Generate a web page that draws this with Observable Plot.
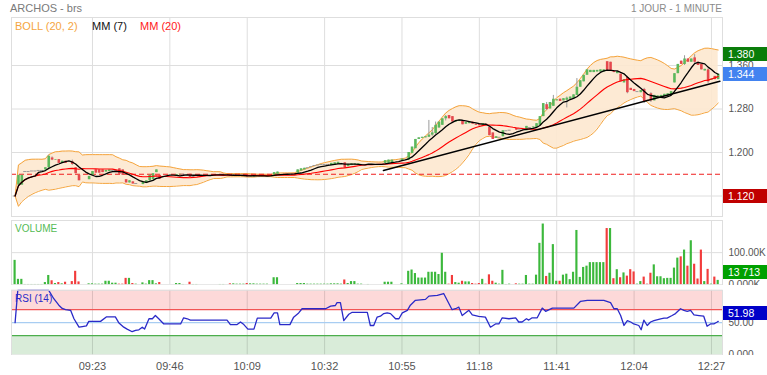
<!DOCTYPE html>
<html>
<head>
<meta charset="utf-8">
<script src="https://cdn.jsdelivr.net/npm/d3@7"></script>
<script src="https://cdn.jsdelivr.net/npm/@observablehq/plot@0.6"></script>
<style>
  html,body{margin:0;padding:0;background:#fff;}
  #chart{position:relative;width:767px;height:375px;overflow:hidden;font-family:"Liberation Sans",Arial,sans-serif;}
  #chart svg{position:absolute;left:0;overflow:hidden;}
  .t{position:absolute;white-space:nowrap;line-height:12px;}
  .badge{position:absolute;left:723px;width:44px;color:#fff;font-size:10.5px;padding-left:5px;box-sizing:border-box;height:14px;line-height:14px;}
</style>
</head>
<body>
<div id="chart"></div>
<script>
// ---------- data ----------
const title = "ARCHOS - brs";
const periodLabel = "1 JOUR - 1 MINUTE";
const sessionOpen = "09:00";

// one entry per minute from 09:00
const opens = [
1.120,1.140,1.140,1.165,1.165,1.166,1.166,1.167,1.167,1.168,
1.172,1.190,1.186,1.187,1.180,1.184,1.182,1.183,1.172,1.158,
1.149,1.150,1.150,1.158,1.168,1.168,1.168,1.164,1.165,1.167,
1.167,1.170,1.168,1.150,1.144,1.146,1.143,1.143,1.141,1.143,
1.148,1.150,1.163,1.158,1.156,1.157,1.157,1.158,1.157,1.159,
1.160,1.160,1.160,1.156,1.158,1.159,1.159,1.159,1.159,1.159,
1.159,1.159,1.158,1.158,1.159,1.156,1.157,1.157,1.158,1.158,
1.155,1.155,1.156,1.157,1.157,1.157,1.157,1.158,1.160,1.160,
1.160,1.159,1.159,1.160,1.162,1.166,1.168,1.172,1.174,1.176,
1.177,1.178,1.178,1.178,1.176,1.177,1.178,1.180,1.181,1.174,
1.176,1.177,1.178,1.178,1.178,1.178,1.178,1.178,1.178,1.178,
1.180,1.180,1.181,1.185,1.186,1.185,1.188,1.186,1.198,1.207,
1.224,1.226,1.227,1.228,1.232,1.235,1.245,1.250,1.262,1.268,
1.266,1.256,1.257,1.258,1.252,1.253,1.256,1.252,1.252,1.248,
1.252,1.246,1.236,1.226,1.228,1.229,1.240,1.241,1.242,1.244,
1.243,1.244,1.240,1.246,1.245,1.246,1.250,1.266,1.288,1.280,
1.285,1.295,1.298,1.295,1.296,1.298,1.299,1.305,1.320,1.330,
1.342,1.347,1.347,1.348,1.348,1.348,1.367,1.366,1.350,1.345,
1.344,1.328,1.338,1.318,1.316,1.312,1.310,1.316,1.296,1.308,
1.295,1.300,1.302,1.303,1.304,1.306,1.328,1.345,1.368,1.362,
1.372,1.366,1.374,1.366,1.362,1.350,1.352,1.333,1.340,1.334];

const closes = [
1.120,1.158,1.158,1.165,1.165,1.166,1.166,1.167,1.167,1.172,
1.193,1.186,1.187,1.180,1.184,1.180,1.182,1.178,1.161,1.148,
1.149,1.150,1.156,1.165,1.162,1.162,1.163,1.167,1.168,1.167,
1.167,1.160,1.158,1.144,1.148,1.142,1.143,1.143,1.146,1.148,
1.158,1.161,1.168,1.151,1.156,1.157,1.157,1.158,1.159,1.160,
1.160,1.160,1.154,1.156,1.158,1.159,1.159,1.159,1.159,1.159,
1.159,1.159,1.158,1.158,1.156,1.158,1.158,1.158,1.158,1.155,
1.157,1.157,1.157,1.157,1.157,1.157,1.157,1.163,1.164,1.160,
1.160,1.159,1.159,1.160,1.168,1.170,1.171,1.172,1.174,1.176,
1.177,1.178,1.178,1.178,1.180,1.181,1.182,1.180,1.171,1.178,
1.179,1.179,1.179,1.178,1.178,1.178,1.178,1.178,1.178,1.178,
1.185,1.186,1.186,1.185,1.186,1.188,1.188,1.200,1.210,1.224,
1.227,1.228,1.229,1.232,1.236,1.250,1.256,1.262,1.266,1.262,
1.256,1.259,1.259,1.251,1.255,1.256,1.252,1.250,1.249,1.253,
1.249,1.231,1.224,1.229,1.228,1.240,1.240,1.241,1.242,1.241,
1.243,1.244,1.248,1.246,1.247,1.253,1.266,1.290,1.279,1.292,
1.298,1.297,1.294,1.299,1.300,1.302,1.306,1.320,1.332,1.342,
1.352,1.351,1.351,1.351,1.352,1.352,1.351,1.350,1.347,1.349,
1.330,1.334,1.310,1.314,1.312,1.312,1.314,1.293,1.294,1.295,
1.305,1.304,1.305,1.307,1.308,1.312,1.345,1.362,1.362,1.372,
1.366,1.372,1.366,1.360,1.352,1.353,1.330,1.335,1.334,1.344];

const wickMinutes = [10,11,17,123,124,125,128,158,160,164,167,182,187,189,199,202,206];
const wickHighs   = [1.195,1.192,1.186,1.259,1.246,1.256,1.268,1.292,1.305,1.302,1.336,1.340,1.318,1.310,1.378,1.380,1.354];
const wickLows    = [1.170,1.185,1.176,1.228,1.230,1.233,1.258,1.277,1.285,1.282,1.305,1.308,1.290,1.292,1.360,1.364,1.327];

// volume in thousands of shares, one entry per minute
const volumesK = [
76,17,17,1,1,1,1,1,1,7,
29,12.5,4,7,3,8,0,10,42,9,
0,0,3,3,2,2,2,11,11,5,
5,2,2,20,20,4,2,0,6,2,
13,13,3,7,0,0,0,0,4,4,
1,0,8,1,1,0,0,0,0,0,
0,1,1,0,3,3,2,2,2,4,
3,3,2,2,2,2,0,22,22,0,
0,0,0,0,4,4,4,2,2,2,
2,2,2,2,3,3,3,2,15,4,
10,10,2,2,0,1,0,0,0,0,
8,8,8,0,0,3,0,42,46,35,
21,21,21,39,39,39,32,98,39,2,
29,7,5,11,9,9,4,2,4,17,
2,31,11,5,2,45,1,2,0,3,
2,2,29,2,2,30,129,189,26,36,
125,11,11,30,33,16,39,169,23,54,
58,69,69,69,69,69,175,175,19,47,
22,37,27,47,40,2,10,24,2,36,
62,25,25,19,20,20,52,83,87,108,
58,137,64,18,108,10,48,2,24,13.713];
const volumeDownMinutes = [11,13,15,17,18,19,31,32,33,35,43,52,64,69,98,129,130,133,136,137,138,140,141,142,149,158,162,176,178,180,182,183,184,187,188,189,198,200,202,203,204,206,208];

const prevClose = 1.160;
const dayHigh = 1.380;
const dayLow = 1.120;
const lastVolume = 13713;

// RSI (14) vertices: minute after 09:00, value
const rsiMinutes = [0,0.8,10,11.5,13,14,15,16.5,17.5,19,
20,21.2,21.9,25.4,27.2,29.8,30.8,32.3,33.3,34.8,
35.8,36.8,37.8,38.5,39.8,40.8,41.7,42.7,44.2,49.2,
50.1,51.2,52.1,63,64,66,67,68,69.2,71,
72,76,77,78,78.7,81.7,82.8,84.3,85.3,92.3,
93.8,95.2,95.7,96.7,97.7,99.2,100.2,104.7,105.6,106.6,
107.6,108.6,109.6,110.6,111.6,113.1,114.1,115.1,116.6,117.5,
119,122,123,125.5,127.4,129.9,130.9,131.9,132.9,134.9,
135.9,137.8,139.8,141.3,142.8,143.8,144.8,146.8,148.8,149.7,
150.7,152,152.7,153.7,155.2,156.7,157.7,159.7,166.1,168.1,
170.1,175,177,178,179,180,181,182,183,183.9,
185.4,186.1,186.9,187.9,188.9,189.9,191.9,192.9,193.8,195.3,
196.3,197.8,198.8,199.8,200.8,201.8,203.3,204.7,205.7,206.7,
207.7,208.7,209];
const rsiValues = [50,100,100,87,77,72,70,69,56,43,
44,45,52,52,59,59,50,43,40,36,
38,39,43,40,56,56,61,56,48,48,
57.5,56,54,54,47,47,51,47,40,40,
57,57,65,65,47,47,58.5,65,71.5,71.5,
75.6,76.5,81,81,53,63,66,66,45.6,45.6,
58.5,60,64,65,64,56,56,65,69,77,
84.5,86,91,92,95,70,71.5,74,61,69,
62,59.6,58.5,43,48,48,57.5,56,57.5,51,
51,56,54,57.5,57.5,72.5,67.5,72.5,72.5,83,
84.5,84.5,81,71.5,71.5,61,45.6,53,51,48,
45.6,39,54,45.6,51,53,56,57,57,61,
64,71.5,69,67.5,69,62,61,60,44.5,48,
48,51,51.98];
const rsiLevels = [30, 50, 70];

const priceTicks = [1.120, 1.200, 1.280, 1.360];
const volumeTicks = [0, 100000];
const rsiTicks = [0, 50];
const timeTicks = ["09:23","09:46","10:09","10:32","10:55","11:18","11:41","12:04","12:27"];
const trendMinutes = [109.5, 209.5];
const trendPrices = [1.167, 1.331];

// ---------- derived ----------
const hmToAbs = s => { const [h, m] = s.split(":").map(Number); return h * 60 + m; };
const openAbs = hmToAbs(sessionOpen);
const toMin = s => hmToAbs(s) - openAbs;
const tickMins = timeTicks.map(toMin);
const fmtTime = m => { const t = openAbs + m; return String(Math.floor(t / 60)).padStart(2, "0") + ":" + String(t % 60).padStart(2, "0"); };

const wick = new Map(wickMinutes.map((m, i) => [m, [wickHighs[i], wickLows[i]]]));
const down = new Set(volumeDownMinutes);
const rows = closes.map((c, i) => {
  const o = opens[i];
  const w = wick.get(i);
  const w7 = closes.slice(Math.max(0, i - 6), i + 1);
  const w20 = closes.slice(Math.max(0, i - 19), i + 1);
  const m20 = d3.mean(w20);
  const sd = Math.sqrt(d3.mean(w20, v => (v - m20) ** 2));
  return {
    m: i, o, c,
    h: w ? w[0] : Math.max(o, c),
    l: w ? w[1] : Math.min(o, c),
    ma7: d3.mean(w7), ma20: m20, up: m20 + 2 * sd, lo: m20 - 2 * sd,
    v: volumesK[i] * 1000,
    dir: Math.abs(c - o) < 1e-9 ? 0 : (c > o ? 1 : -1),
    vdown: down.has(i)
  };
});
const traded = rows.filter(d => d.v > 0);
const rsi = rsiMinutes.map((m, i) => ({m, v: rsiValues[i]}));
const trend = trendMinutes.map((m, i) => ({m, p: trendPrices[i]}));
const lastPrice = closes[closes.length - 1];
const lastRsi = rsiValues[rsiValues.length - 1];

// ---------- layout ----------
const W = 767, ML = 11, MR = 45;
const xDom = [-1.07, 210.28];
const GREEN = "#5cb85c", RED = "#e5484d", VGREEN = "#3cb83c", VRED = "#f23c3c", GRID = "#dedede";
const baseStyle = {fontFamily: "'Liberation Sans', Arial, sans-serif", fontSize: "10px", color: "#555", background: "transparent", overflow: "hidden"};
const wrap = document.getElementById("chart");

function place(svg, top) { svg.style.top = top + "px"; wrap.appendChild(svg); return svg; }

// main price panel
const mainTop = 0;
const main = place(Plot.plot({
  width: W, height: 218, marginTop: 17, marginBottom: 2, marginLeft: ML, marginRight: MR,
  style: baseStyle,
  x: {domain: xDom, axis: null},
  y: {domain: [1.0823, 1.4483], axis: null, label: null},
  color: {type: "identity"},
  marks: [
    Plot.ruleX(tickMins, {stroke: GRID}),
    Plot.ruleY(priceTicks, {stroke: GRID}),
    Plot.areaY(rows, {x: "m", y1: "lo", y2: "up", fill: "#fde8cf", fillOpacity: 0.9}),
    Plot.line(rows, {x: "m", y: "up", stroke: "#f5a53e", strokeWidth: 1}),
    Plot.line(rows, {x: "m", y: "lo", stroke: "#f5a53e", strokeWidth: 1}),
    Plot.ruleY([prevClose], {stroke: "#f01e1e", strokeWidth: 1, strokeDasharray: "5,3"}),
    Plot.ruleX(traded.filter(d => d.h > d.l), {x: "m", y1: "l", y2: "h", stroke: "#9a9a9a", strokeWidth: 1}),
    Plot.ruleX(traded.filter(d => d.dir !== 0), {x: "m", y1: "o", y2: "c", stroke: d => d.dir > 0 ? GREEN : RED, strokeWidth: 2.6}),
    Plot.ruleY(traded.filter(d => d.dir === 0), {y: "c", x1: d => d.m - 0.45, x2: d => d.m + 0.45, stroke: "#9a9a9a", strokeWidth: 1}),
    Plot.line(rows, {x: "m", y: "ma20", stroke: "#ff0000", strokeWidth: 1.1}),
    Plot.line(rows, {x: "m", y: "ma7", stroke: "#000", strokeWidth: 1.3}),
    Plot.line(trend, {x: "m", y: "p", stroke: "#000", strokeWidth: 1.5}),
    Plot.axisY({anchor: "right", ticks: priceTicks, tickSize: 0, tickPadding: 6, tickFormat: d3.format(".3f"), label: null, fontSize: 10}),
    Plot.frame({stroke: GRID})
  ]
}), mainTop);

// volume panel
const volTop = 218;
const vol = place(Plot.plot({
  width: W, height: 67, marginTop: 2, marginBottom: 0.7, marginLeft: ML, marginRight: MR,
  style: baseStyle,
  x: {domain: xDom, axis: null},
  y: {domain: [0, 200000], axis: null, label: null},
  color: {type: "identity"},
  marks: [
    Plot.ruleX(tickMins, {stroke: GRID}),
    Plot.ruleY([100000], {stroke: GRID}),
    Plot.rect(traded, {x1: d => d.m - 0.32, x2: d => d.m + 0.32, y1: 0, y2: "v", fill: d => d.vdown ? VRED : VGREEN}),
    Plot.axisY({anchor: "right", ticks: volumeTicks, tickSize: 0, tickPadding: 6, tickFormat: v => (v / 1000).toFixed(v === 0 ? 3 : 2) + "K", label: null, fontSize: 10}),
    Plot.frame({stroke: GRID})
  ]
}), volTop);

// RSI panel
const rsiTop = 285;
const rsiZones = [{lo: rsiLevels[2], hi: 100, fill: "#fdd9d9"}, {lo: 0, hi: rsiLevels[0], fill: "#d9ecd9"}];
const levelColors = ["#4cae4c", "#a8cdf2", "#f25555"];
const rsiPlot = place(Plot.plot({
  width: W, height: 70, marginTop: 4.8, marginBottom: 0.5, marginLeft: ML, marginRight: MR,
  style: baseStyle,
  x: {domain: xDom, axis: null},
  y: {domain: [0, 100], axis: null, label: null},
  color: {type: "identity"},
  marks: [
    Plot.rect(rsiZones, {x1: () => xDom[0], x2: () => xDom[1], y1: "lo", y2: "hi", fill: "fill"}),
    Plot.ruleX(tickMins, {stroke: "#000", strokeOpacity: 0.13}),
    Plot.ruleY(rsiLevels, {stroke: (d, i) => levelColors[i], strokeWidth: 1.2}),
    Plot.line(rsi, {x: "m", y: "v", stroke: "#2a2ac8", strokeWidth: 1.3}),
    Plot.axisY({anchor: "right", ticks: rsiTicks, tickSize: 0, tickPadding: 6, tickFormat: v => v === 0 ? "0.000" : v.toFixed(2), label: null, fontSize: 10}),
    Plot.frame({stroke: GRID})
  ]
}), rsiTop);

// time axis
place(Plot.plot({
  width: W, height: 20, marginTop: 0, marginBottom: 20, marginLeft: ML, marginRight: MR,
  style: baseStyle,
  x: {domain: xDom},
  marks: [
    Plot.axisX({ticks: tickMins, tickSize: 0, tickPadding: 7, tickFormat: fmtTime, label: null, fontSize: 11})
  ]
}), 355);

// ---------- texts ----------
function label(text, left, top, size, color, right) {
  const d = document.createElement("div");
  d.className = "t";
  d.textContent = text;
  d.style.fontSize = size + "px";
  d.style.color = color;
  d.style.top = top + "px";
  if (right != null) d.style.right = right + "px"; else d.style.left = left + "px";
  wrap.appendChild(d);
}
label(title, 10, 2, 11, "#7a7a7a");
label(periodLabel, null, 2.5, 10, "#8a8a8a", W - 722);
label("BOLL (20, 2)", 15, 19.5, 11, "#f5a53e");
label("MM (7)", 92, 19.5, 11, "#111");
label("MM (20)", 140, 19.5, 11, "#ff1a1a");
label("VOLUME", 15, 222.5, 10, "#55bb55");
label("RSI (14)", 15, 292.5, 10, "#2a2ac8");

// ---------- value badges ----------
function badge(svg, top, value, text, bg, dy) {
  const y = top + svg.scale("y").apply(value) + (dy || 0);
  const d = document.createElement("div");
  d.className = "badge";
  d.textContent = text;
  d.style.top = (y - 7) + "px";
  d.style.background = bg;
  wrap.appendChild(d);
}
const f3 = d3.format(".3f");
const fVol = d3.formatLocale({decimal: ".", thousands: " ", grouping: [3], currency: ["", ""]}).format(",");
badge(main, mainTop, dayHigh, f3(dayHigh), "#0a7d0a");
badge(main, mainTop, lastPrice, f3(lastPrice), "#4283f0");
badge(main, mainTop, dayLow, f3(dayLow), "#c00000");
badge(vol, volTop, lastVolume, fVol(lastVolume), "#00a000", -8);
badge(rsiPlot, rsiTop, lastRsi, lastRsi.toFixed(2), "#0000c8", -8);
</script>
</body>
</html>
